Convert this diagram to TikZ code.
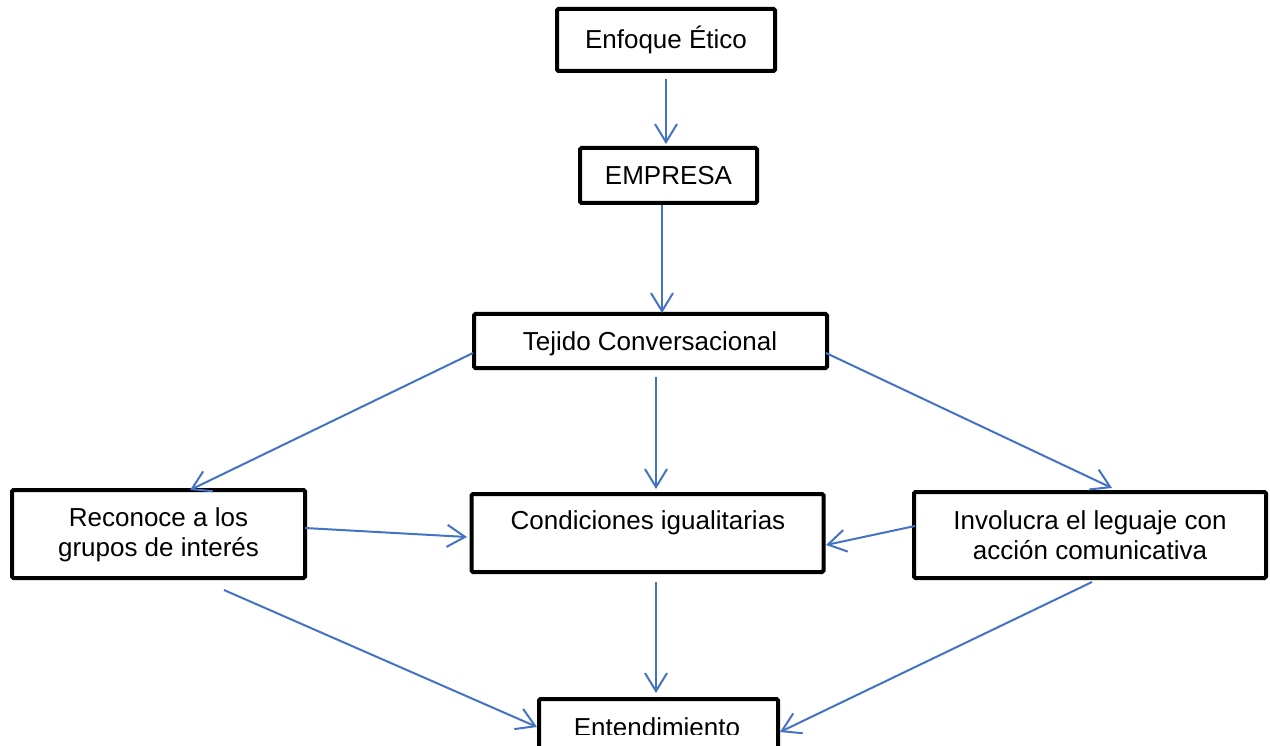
\documentclass[tikz,border=0pt]{standalone}
\usepackage{fontspec}
\setmainfont{Liberation Sans}
\usetikzlibrary{arrows.meta,calc}
\definecolor{arrowblue}{HTML}{4472C4}
\tikzset{
  box/.style={draw=black, line width=4pt, rounded corners=1.5pt, fill=white, inner sep=0pt},
  lbl/.style={font=\fontsize{26}{30}\selectfont, align=center, inner sep=0pt, text=black},
  conn/.style={draw=arrowblue, line width=2pt, -{Straight Barb[length=18pt,width=22pt,line width=2pt]}}
}
\begin{document}
\begin{tikzpicture}[x=1pt,y=-1pt]
\clip (0,0) rectangle (1270,746);
\fill[white] (0,0) rectangle (1270,746);

% boxes
\node[box, minimum width=218pt, minimum height=62pt] (e1) at (666,40) {};
\node[box, minimum width=177pt, minimum height=55pt] (e2) at (668.5,175.5) {};
\node[box, minimum width=353pt, minimum height=54pt] (e3) at (650.5,341) {};
\node[box, minimum width=293pt, minimum height=88pt] (e4) at (158.5,534) {};
\node[box, minimum width=352pt, minimum height=78pt] (e5) at (647.5,533) {};
\node[box, minimum width=352pt, minimum height=86pt] (e6) at (1090,535) {};
\node[box, minimum width=239pt, minimum height=81pt] (e7) at (658.5,739.5) {};

% labels
\node[lbl, anchor=base] (t1) at (666,49) {Enfoque Ético};
\node[lbl, anchor=base] (t2) at (668.5,185) {EMPRESA};
\node[lbl, anchor=base] (t3) at (650,350) {Tejido Conversacional};
\node[lbl] (t4) at (158.5,535) {Reconoce a los\\grupos de interés};
\node[lbl, anchor=base] (t5) at (648,529) {Condiciones igualitarias};
\node[lbl] (t6) at (1090,535) {Involucra el leguaje con\\acción comunicativa};
\begin{scope}
  \clip (0,0) rectangle (1270,734);
  \node[lbl, anchor=base] (t7) at (657,736) {Entendimiento};
\end{scope}

% connectors
\draw[conn] ($(e1.south)+(0,6)$) -- ($(e2.north)+(-2.5,-2)$);
\draw[conn] ($(e2.south)+(-6.5,0)$) -- ($(e3.north)+(11.5,1)$);
\draw[conn] ($(e3.west)+(1,12)$) -- ($(e4.north)+(31.5,2)$);
\draw[conn] ($(e3.south)+(5.5,7)$) -- ($(e5.north)+(8.5,-3)$);
\draw[conn] ($(e3.east)+(-3,12)$) -- ($(e6.north)+(22,-2)$);
\draw[conn] ($(e4.east)+(-2,-6)$) -- ($(e5.west)+(-2.5,4)$);
\draw[conn] ($(e6.west)+(3,-9)$) -- ($(e5.east)+(0.5,12)$);
\draw[conn] ($(e5.south)+(8.5,8)$) -- ($(e7.north)+(-2.5,-4)$);
\draw[conn] ($(e4.south)+(65.5,10)$) -- ($(e7.west)+(0,-12.5)$);
\draw[conn] ($(e6.south)+(2,2)$) -- ($(e7.east)+(0,-7.5)$);
\end{tikzpicture}
\end{document}
